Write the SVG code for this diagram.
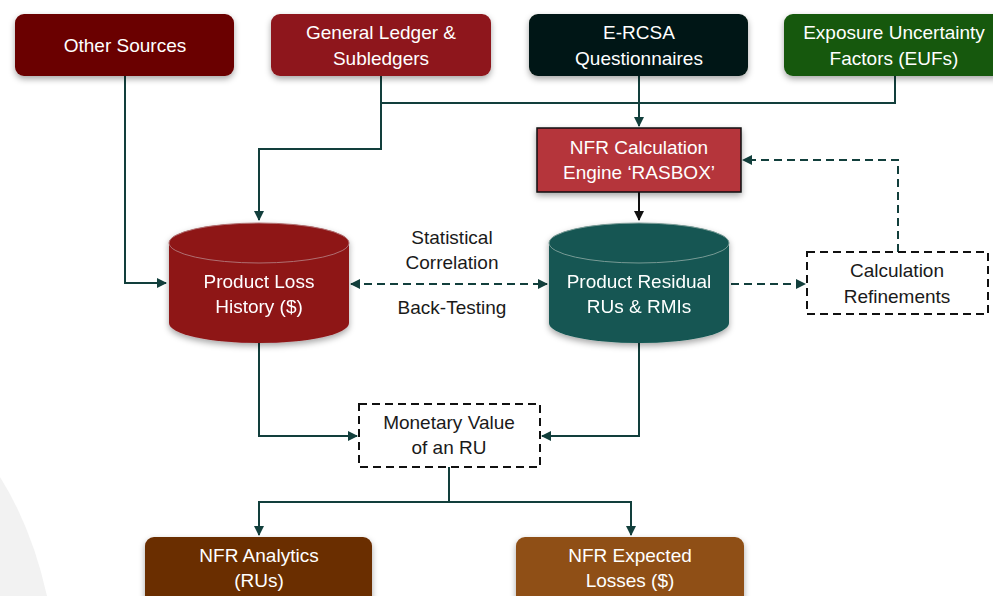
<svg xmlns="http://www.w3.org/2000/svg" width="993" height="596" viewBox="0 0 993 596">
<defs>
<style>
.t{font-family:"Liberation Sans","Noto Sans",sans-serif;font-size:19px;text-anchor:middle}
.w{fill:#ffffff}
.k{fill:#1a1a1a}
.c{fill:none;stroke:#123f3c;stroke-width:2}
.d{fill:none;stroke:#123f3c;stroke-width:2;stroke-dasharray:8,5}
.db{fill:#ffffff;stroke:#111111;stroke-width:2;stroke-dasharray:8,5}
</style>
<filter id="sh" x="-10%" y="-10%" width="120%" height="130%">
<feDropShadow dx="0" dy="3" stdDeviation="3" flood-color="#000000" flood-opacity="0.35"/>
</filter>
<marker id="ah" viewBox="0 0 10 10" refX="9" refY="5" markerWidth="5" markerHeight="5" orient="auto-start-reverse">
<path d="M0,0 L10,5 L0,10 Z" fill="#123f3c"/>
</marker>
<marker id="ahk" viewBox="0 0 10 10" refX="9" refY="5" markerWidth="5" markerHeight="5" orient="auto">
<path d="M0,0 L10,5 L0,10 Z" fill="#111111"/>
</marker>
</defs>
<rect width="993" height="596" fill="#ffffff"/>
<path d="M0,477 Q32,528 47,596 L0,596 Z" fill="#f2f2f2"/>

<g id="connectors">
<path class="c" d="M125,76 V283 H166" marker-end="url(#ah)"/>
<path class="c" d="M381,76 V103 H895 V76"/>
<path class="c" d="M381,103 V149 H259 V220" marker-end="url(#ah)"/>
<path class="c" d="M639,76 V126" marker-end="url(#ah)"/>
<path d="M639,192 V220" fill="none" stroke="#111111" stroke-width="2" marker-end="url(#ahk)"/>
<path class="d" d="M351,284 H547" marker-start="url(#ah)" marker-end="url(#ah)"/>
<path class="d" d="M731,284 H805" marker-end="url(#ah)"/>
<path class="d" d="M898,252 V160 H743" marker-end="url(#ah)"/>
<path class="c" d="M259,343 V436 H357" marker-end="url(#ah)"/>
<path class="c" d="M639,343 V436 H542" marker-end="url(#ah)"/>
<path class="c" d="M449,467 V502 H259 V535" marker-end="url(#ah)"/>
<path class="c" d="M449,502 H631 V535" marker-end="url(#ah)"/>
</g>

<g id="other-sources">
<rect x="15" y="14" width="219" height="62" rx="9" fill="#6b0505" filter="url(#sh)"/>
<text class="t w" x="125" y="52">Other Sources</text>
</g>
<g id="general-ledger">
<rect x="271" y="14" width="220" height="62" rx="9" fill="#8e181c" filter="url(#sh)"/>
<text class="t w" x="381" y="39">General Ledger &amp;</text>
<text class="t w" x="381" y="65">Subledgers</text>
</g>
<g id="ercsa">
<rect x="529" y="14" width="219" height="62" rx="9" fill="#061612" filter="url(#sh)"/>
<text class="t w" x="639" y="39">E-RCSA</text>
<text class="t w" x="639" y="65">Questionnaires</text>
</g>
<g id="eufs">
<rect x="784" y="14" width="220" height="62" rx="9" fill="#14580a" filter="url(#sh)"/>
<text class="t w" x="894" y="39">Exposure Uncertainty</text>
<text class="t w" x="894" y="65">Factors (EUFs)</text>
</g>
<g id="nfr-engine">
<rect x="537" y="128" width="204" height="64" fill="#b5353a" stroke="#111" stroke-width="1.5" filter="url(#sh)"/>
<text class="t w" x="639" y="154">NFR Calculation</text>
<text class="t w" x="639" y="179">Engine ‘RASBOX’</text>
</g>
<g id="loss-history" filter="url(#sh)">
<path d="M169,243 V323 A90,20 0 0 0 349,323 V243 Z" fill="#8e1519"/>
<ellipse cx="259" cy="243" rx="90" ry="20" fill="#8e1519" stroke="#b07070" stroke-width="1"/>
<text class="t w" x="259" y="288">Product Loss</text>
<text class="t w" x="259" y="313">History ($)</text>
</g>
<g id="residual" filter="url(#sh)">
<path d="M549,243 V323 A90,20 0 0 0 729,323 V243 Z" fill="#125752"/>
<ellipse cx="639" cy="243" rx="90" ry="20" fill="#125752" stroke="#7a9a96" stroke-width="1"/>
<text class="t w" x="639" y="288">Product Residual</text>
<text class="t w" x="639" y="313">RUs &amp; RMIs</text>
</g>
<g id="labels">
<text class="t k" x="452" y="244">Statistical</text>
<text class="t k" x="452" y="269">Correlation</text>
<text class="t k" x="452" y="314">Back-Testing</text>
</g>
<g id="calc-refinements">
<rect x="807" y="252" width="181" height="62" class="db"/>
<text class="t k" x="897" y="277">Calculation</text>
<text class="t k" x="897" y="303">Refinements</text>
</g>
<g id="monetary">
<rect x="359" y="404" width="181" height="63" class="db"/>
<text class="t k" x="449" y="429">Monetary Value</text>
<text class="t k" x="449" y="454">of an RU</text>
</g>
<g id="nfr-analytics">
<rect x="145" y="537" width="227" height="70" rx="9" fill="#6b2d05" filter="url(#sh)"/>
<text class="t w" x="259" y="562">NFR Analytics</text>
<text class="t w" x="259" y="587">(RUs)</text>
</g>
<g id="nfr-expected">
<rect x="516" y="537" width="228" height="70" rx="9" fill="#8f4f18" filter="url(#sh)"/>
<text class="t w" x="630" y="562">NFR Expected</text>
<text class="t w" x="630" y="587">Losses ($)</text>
</g>
</svg>
